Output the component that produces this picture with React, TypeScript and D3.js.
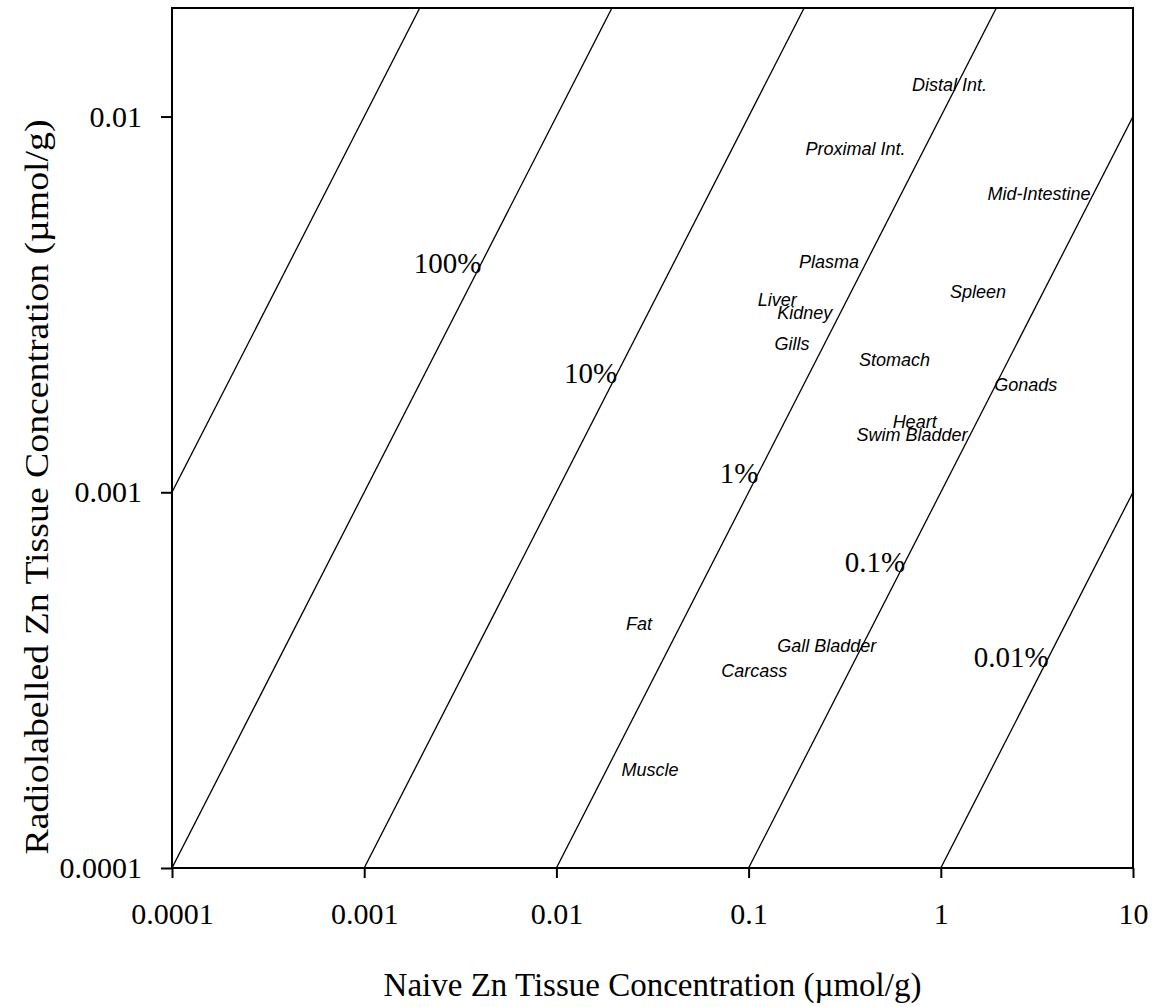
import React, { useRef, useEffect } from 'react';
import * as d3 from 'd3';

// tick values and their printed labels
const xTicks = [0.0001, 0.001, 0.01, 0.1, 1, 10];
const xTickLabels = ['0.0001', '0.001', '0.01', '0.1', '1', '10'];
const yTicks = [0.0001, 0.001, 0.01];
const yTickLabels = ['0.0001', '0.001', '0.01'];

// reference lines: radiolabelled = ratio * naive
const ratios = [10, 1, 0.1, 0.01, 0.001, 0.0001];
const ratioLabels = ['', '100%', '10%', '1%', '0.1%', '0.01%'];
// radiolabelled value where each label sits on its line
const ratioLabelY = [null, 0.00384, 0.00195, 0.00106, 0.000614, 0.000343];

// tissues: naive (x) and radiolabelled (y) concentration, umol/g
const tissues = [
  'Distal Int.', 'Proximal Int.', 'Mid-Intestine', 'Plasma', 'Spleen', 'Liver',
  'Kidney', 'Gills', 'Stomach', 'Gonads', 'Heart', 'Swim Bladder',
  'Fat', 'Gall Bladder', 'Carcass', 'Muscle',
];
const naive = [
  1.11, 0.36, 3.24, 0.262, 1.56, 0.141,
  0.196, 0.168, 0.574, 2.77, 0.731, 0.708,
  0.0269, 0.255, 0.107, 0.0307,
];
const radio = [
  0.01213, 0.0082, 0.00622, 0.0041, 0.00341, 0.00325,
  0.003, 0.00249, 0.00226, 0.00193, 0.00154, 0.00142,
  0.000447, 0.000391, 0.000336, 0.000183,
];

const serif = '"Liberation Serif", "Times New Roman", serif';
const sans = '"Liberation Sans", Arial, sans-serif';

const App = () => {
  const svgRef = useRef(null);

  useEffect(() => {
    const svg = d3.select(svgRef.current);
    svg.selectAll('*').remove();

    const left = 172, right = 1133, top = 8, bottom = 868;

    const x = d3.scaleLog().domain([0.0001, 10]).range([left, right]);
    const y = d3.scaleLog().domain([0.0001, 0.01945]).range([bottom, top]);

    svg.append('defs')
      .append('clipPath')
      .attr('id', 'plot-clip')
      .append('rect')
      .attr('x', left)
      .attr('y', top)
      .attr('width', right - left)
      .attr('height', bottom - top);

    // ratio lines
    const line = d3.line()
      .x(d => x(d[0]))
      .y(d => y(d[1]));

    svg.append('g')
      .attr('clip-path', 'url(#plot-clip)')
      .selectAll('path')
      .data(ratios)
      .join('path')
      .attr('d', r => line([[0.0001, r * 0.0001], [10, r * 10]]))
      .attr('fill', 'none')
      .attr('stroke', '#000')
      .attr('stroke-width', 1.3);

    // ratio labels
    svg.append('g')
      .selectAll('text')
      .data(ratios.map((r, i) => ({ r, label: ratioLabels[i], yv: ratioLabelY[i] })).filter(d => d.label))
      .join('text')
      .attr('x', d => x(d.yv / d.r) + 5)
      .attr('y', d => y(d.yv))
      .attr('text-anchor', 'end')
      .attr('font-family', serif)
      .attr('font-size', 29)
      .text(d => d.label);

    // tissue labels
    svg.append('g')
      .selectAll('text')
      .data(tissues)
      .join('text')
      .attr('x', (d, i) => x(naive[i]))
      .attr('y', (d, i) => y(radio[i]))
      .attr('dy', '0.35em')
      .attr('text-anchor', 'middle')
      .attr('font-family', sans)
      .attr('font-style', 'italic')
      .attr('font-size', 18)
      .text(d => d);

    // x axis
    const xAxis = svg.append('g')
      .attr('transform', `translate(0, ${bottom})`)
      .call(d3.axisBottom(x)
        .tickValues(xTicks)
        .tickFormat((d, i) => xTickLabels[i])
        .tickSize(10)
        .tickPadding(25));
    xAxis.select('.domain').remove();
    xAxis.selectAll('line').attr('stroke-width', 2);
    xAxis.selectAll('text').attr('font-family', serif).attr('font-size', 30).attr('fill', '#000');

    // y axis
    const yAxis = svg.append('g')
      .attr('transform', `translate(${left}, 0)`)
      .call(d3.axisLeft(y)
        .tickValues(yTicks)
        .tickFormat((d, i) => yTickLabels[i])
        .tickSize(11)
        .tickPadding(19));
    yAxis.select('.domain').remove();
    yAxis.selectAll('line').attr('stroke-width', 2);
    yAxis.selectAll('text').attr('font-family', serif).attr('font-size', 30).attr('fill', '#000');

    // frame
    svg.append('rect')
      .attr('x', left)
      .attr('y', top)
      .attr('width', right - left)
      .attr('height', bottom - top)
      .attr('fill', 'none')
      .attr('stroke', '#000')
      .attr('stroke-width', 2);

    // axis titles
    svg.append('text')
      .attr('x', (left + right) / 2)
      .attr('y', 996)
      .attr('text-anchor', 'middle')
      .attr('font-family', serif)
      .attr('font-size', 33)
      .text('Naive Zn Tissue Concentration (\u00B5mol/g)');

    svg.append('text')
      .attr('transform', 'translate(48, 487) rotate(-90)')
      .attr('text-anchor', 'middle')
      .attr('font-family', serif)
      .attr('font-size', 33)
      .attr('textLength', 735)
      .attr('lengthAdjust', 'spacingAndGlyphs')
      .text('Radiolabelled Zn Tissue Concentration (\u00B5mol/g)');
  }, []);

  return (
    <svg
      ref={svgRef}
      width={1161}
      height={1007}
      style={{ position: 'absolute', left: 0, top: 0, background: '#fff' }}
    />
  );
};

export default App;
